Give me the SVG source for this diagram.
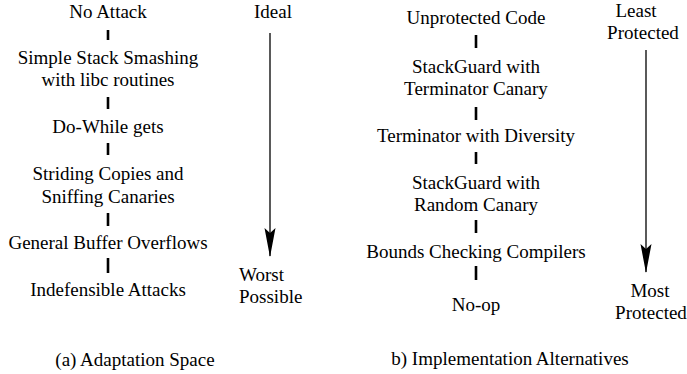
<svg xmlns="http://www.w3.org/2000/svg" width="687" height="374" viewBox="0 0 687 374">
<style>
text{font-family:'Liberation Serif','Times New Roman',serif;font-size:19px;fill:#000;text-anchor:middle}
.l{text-anchor:start}
.tick{stroke:#000;stroke-width:2.6}
.arr{stroke:#000;stroke-width:1.3;fill:none}
</style>
<rect width="687" height="374" fill="#fff"/>
<g id="connectors">
<line class="tick" x1="108" y1="30" x2="108" y2="40"/>
<line class="tick" x1="108" y1="97" x2="108" y2="109"/>
<line class="tick" x1="108" y1="143" x2="108" y2="155"/>
<line class="tick" x1="108" y1="213" x2="108" y2="226"/>
<line class="tick" x1="108" y1="258" x2="108" y2="273"/>
<line class="tick" x1="476" y1="35" x2="476" y2="48"/>
<line class="tick" x1="476" y1="107" x2="476" y2="120"/>
<line class="tick" x1="476" y1="152" x2="476" y2="164"/>
<line class="tick" x1="476" y1="220" x2="476" y2="233"/>
<line class="tick" x1="476" y1="266" x2="476" y2="280"/>
<line class="arr" x1="270" y1="33" x2="270" y2="256"/>
<path d="M264.5,228 L270,233 L275.5,228 L270,257 Z" fill="#000"/>
<line class="arr" x1="646" y1="50" x2="646" y2="272"/>
<path d="M640.5,244 L646,249 L651.5,244 L646,273 Z" fill="#000"/>
</g>
<g id="a-no-attack"><text x="108" y="18">No Attack</text></g>
<g id="a-simple"><text x="108" y="64">Simple Stack Smashing</text><text x="108" y="86">with libc routines</text></g>
<g id="a-dowhile"><text x="108" y="133">Do-While gets</text></g>
<g id="a-striding"><text x="108" y="180">Striding Copies and</text><text x="108" y="203">Sniffing Canaries</text></g>
<g id="a-general"><text x="108" y="249">General Buffer Overflows</text></g>
<g id="a-indef"><text x="108" y="296">Indefensible Attacks</text></g>
<g id="a-ideal"><text x="273" y="18">Ideal</text></g>
<g id="a-worst"><text class="l" x="239" y="281">Worst</text><text class="l" x="239" y="303">Possible</text></g>
<g id="a-caption"><text x="135" y="366">(a) Adaptation Space</text></g>
<g id="b-unprot"><text x="476" y="24">Unprotected Code</text></g>
<g id="b-sgterm"><text x="476" y="73">StackGuard with</text><text x="476" y="95">Terminator Canary</text></g>
<g id="b-termdiv"><text x="476" y="142">Terminator with Diversity</text></g>
<g id="b-sgrand"><text x="476" y="189">StackGuard with</text><text x="476" y="211">Random Canary</text></g>
<g id="b-bounds"><text x="476" y="258">Bounds Checking Compilers</text></g>
<g id="b-noop"><text x="476" y="311">No-op</text></g>
<g id="b-least"><text x="636" y="17">Least</text><text x="643" y="39">Protected</text></g>
<g id="b-most"><text x="650" y="297">Most</text><text x="651" y="319">Protected</text></g>
<g id="b-caption"><text x="510" y="365">b)  Implementation Alternatives</text></g>
</svg>
